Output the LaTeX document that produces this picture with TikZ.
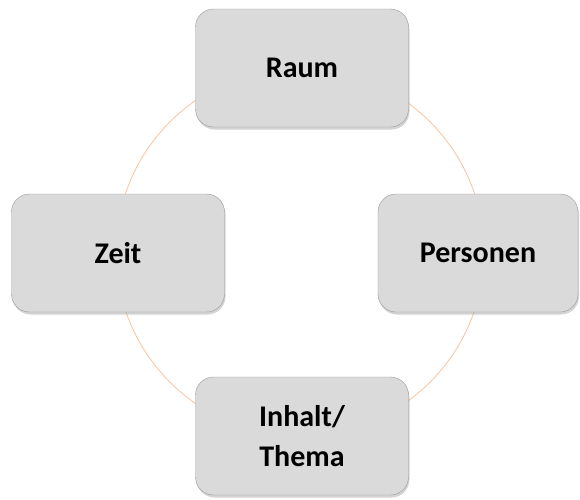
\documentclass[tikz,border=0pt]{standalone}
\usepackage{fontspec}
\setmainfont{Carlito}
\usetikzlibrary{shadows}
\definecolor{boxfill}{HTML}{DADADA}
\definecolor{boxline}{HTML}{9A9A9A}
\definecolor{ringcol}{HTML}{F7C39D}
\begin{document}
\begin{tikzpicture}[x=1pt,y=-1pt,
  topic/.style = {draw=boxline, fill=boxfill, rounded corners=18pt,
    minimum width=213pt, minimum height=118pt, align=center,
    font=\fontsize{30}{40}\selectfont\bfseries,
    drop shadow={shadow xshift=1pt, shadow yshift=-2.5pt, opacity=0.35}}]
  \useasboundingbox (0,0) rectangle (580,499);
  %Centre and ring
  \coordinate (O) at (300,252);
  \draw[ringcol, line width=0.8pt] (O) circle[radius=184];
  %Topics
  \node[topic] (raum) at (302,68) {Raum};
  \node[topic] (zeit) at (118,253) {Zeit};
  \node[topic, minimum width=200pt] (personen) at (478,253) {Personen};
  \node[topic] (inhalt) at (302,436) {Inhalt/\\Thema};
\end{tikzpicture}
\end{document}
